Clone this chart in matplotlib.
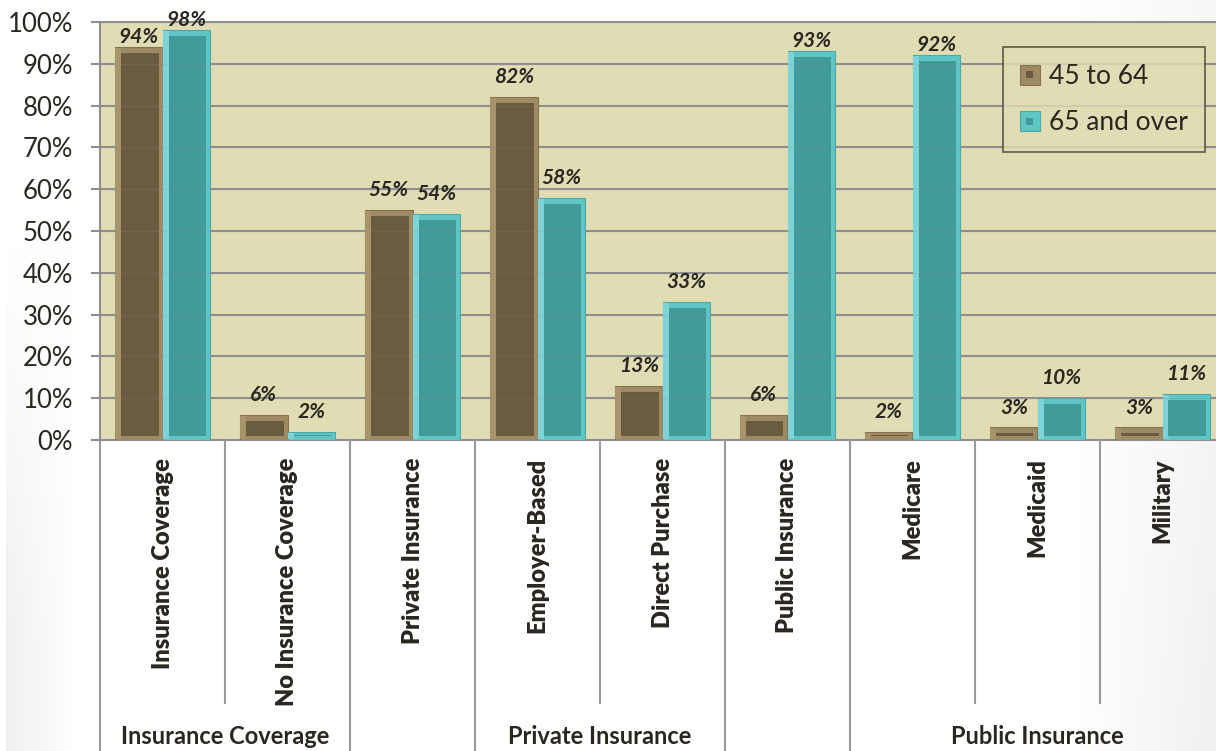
import numpy as np
import matplotlib
matplotlib.use("Agg")
import matplotlib.pyplot as plt
from matplotlib.patches import Rectangle, Patch
from matplotlib.legend_handler import HandlerBase
from matplotlib.transforms import blended_transform_factory

# ---- data -------------------------------------------------------------
categories = ["Insurance Coverage", "No Insurance Coverage", "Private Insurance",
              "Employer-Based", "Direct Purchase", "Public Insurance",
              "Medicare", "Medicaid", "Military"]
age_45_64 = [94, 6, 55, 82, 13, 6, 2, 3, 3]
age_65_over = [98, 2, 54, 58, 33, 93, 92, 10, 11]
series_names = ["45 to 64", "65 and over"]
# group label, first category index, last category index (blank = no label)
groups = [("Insurance Coverage", 0, 1), ("", 2, 2), ("Private Insurance", 3, 4),
          ("", 5, 5), ("Public Insurance", 6, 8)]
y_ticks = [0, 10, 20, 30, 40, 50, 60, 70, 80, 90, 100]
y_tick_labels = [f"{t}%" for t in y_ticks]

# ---- style ------------------------------------------------------------
W, H = 1216, 751
TXT = "#29271f"
GRID = "#8e8e8e"
PLOT_BG = "#e0ddb5"
styles = [
    dict(frame="#9f8b63", light="#a8946b", inner="#6a5b41", edge="#85744f"),
    dict(frame="#60c5c5", light="#7dd3d7", inner="#419b98", edge="#4aa9a9"),
]
plt.rcParams["font.family"] = ["Lato", "DejaVu Sans"]

fig = plt.figure(figsize=(W / 100, H / 100), dpi=100)
fig.patch.set_facecolor("white")

# soft slide shading along the left and right edges
bg = fig.add_axes([0, 0, 1, 1], zorder=-10)
xx, yy = np.meshgrid(np.arange(W), np.arange(H))
left = np.clip(1 - (xx - 6) / 70.0, 0, 1) * np.clip((yy - 250) / 400.0, 0, 1)
left[:, :6] = 0
right = np.clip((xx - 1080) / 136.0, 0, 1) * (0.5 + 0.5 * np.clip((yy - 150) / 600.0, 0, 1))
shade = 0.06 * left + 0.06 * right
img = np.dstack([1 - shade] * 3)
bg.imshow(img, aspect="auto", extent=[0, 1, 0, 1], origin="upper")
bg.axis("off")

ax = fig.add_axes([100 / W, (H - 440) / H, 1125 / W, 418 / H])
ax.set_facecolor(PLOT_BG)
ax.set_xlim(-0.5, len(categories) - 0.5)
ax.set_ylim(0, 100)

px_x = 1 / 125.0          # category units per pixel
px_y = 100 / 418.0        # percent units per pixel

for t in y_ticks:
    ax.axhline(t, color=GRID, lw=1.5, zorder=0.5, clip_on=False)

idx = np.arange(len(categories))
bw = 0.38
offsets = [-0.19, 0.19]
for vals, off, st in zip([age_45_64, age_65_over], offsets, styles):
    vals = np.asarray(vals, dtype=float)
    x = idx + off
    ax.bar(x, vals, bw, color=st["frame"], edgecolor=st["edge"], lw=0.8, zorder=2)
    ax.bar(x - bw / 2 + 3 * px_x, vals - 2 * px_y, 6 * px_x, bottom=px_y,
           color=st["light"], lw=0, zorder=2.1)
    inner_h = np.maximum(vals - 10 * px_y, 1.2 * px_y)
    inner_l = x - bw / 2 + 6 * px_x
    inner_w = bw - 10 * px_x
    ax.bar(inner_l, inner_h, inner_w, bottom=4 * px_y, align="edge",
           color=st["inner"], lw=0, zorder=2.2)
    for xi, v in zip(x, vals):
        gap = 10 if v < 90 else 3
        ax.annotate(f"{int(v)}%", (xi, v), xytext=(0, gap), textcoords="offset points",
                    ha="center", va="baseline", fontsize=15, fontweight="bold",
                    fontstyle="italic", color=TXT, zorder=5, annotation_clip=False)

# faint grid showing through the bars
for t in y_ticks[1:]:
    ax.axhline(t, color=GRID, lw=1.0, alpha=0.18, zorder=3)

# axes styling
for s in ["top", "right", "bottom"]:
    ax.spines[s].set_visible(False)
ax.spines["left"].set_color(GRID)
ax.spines["left"].set_linewidth(1.5)
ax.set_yticks(y_ticks)
ax.set_yticklabels(y_tick_labels, fontsize=18.5, color=TXT)
ax.tick_params(axis="y", length=6.5, width=1.5, color=GRID, pad=13)
ax.set_xticks(idx)
ax.set_xticklabels(categories, rotation=90, fontsize=17, fontweight="heavy", color=TXT)
ax.tick_params(axis="x", length=0, pad=13)

# category separators below the axis
tr = blended_transform_factory(ax.transData, ax.transAxes)
full_bottom = -(H - 440) / 418.0 - 0.01
part_bottom = -(703 - 440) / 418.0
group_edges = {g[1] - 0.5 for g in groups} | {g[2] + 0.5 for g in groups}
for b in np.arange(-0.5, len(categories), 1.0):
    yb = full_bottom if b in group_edges else part_bottom
    ax.plot([b, b], [0, yb], color="#9a9a9a", lw=1.5, transform=tr,
            clip_on=False, zorder=1)

for name, i0, i1 in groups:
    if name:
        ax.text((i0 + i1) / 2, -(737 - 440) / 418.0, name, transform=tr,
                ha="center", va="center", fontsize=17, fontweight="bold", color=TXT)


class BevelSquare(HandlerBase):
    def __init__(self, st):
        super().__init__()
        self.st = st

    def create_artists(self, legend, orig_handle, xdescent, ydescent, width,
                       height, fontsize, trans):
        s = min(width, height)
        x0 = -xdescent + (width - s) / 2
        y0 = -ydescent + (height - s) / 2
        outer = Rectangle((x0, y0), s, s, facecolor=self.st["frame"],
                          edgecolor=self.st["edge"], lw=0.8, transform=trans)
        inner = Rectangle((x0 + 0.32 * s, y0 + 0.32 * s), 0.36 * s, 0.36 * s,
                          facecolor=self.st["inner"], lw=0, transform=trans)
        return [outer, inner]


handles = [Patch(label=n) for n in series_names]
leg = ax.legend(handles=handles, loc="upper right",
                bbox_to_anchor=((1205 - 100) / 1125.0, (440 - 47) / 418.0),
                borderaxespad=0, fontsize=19, frameon=True, fancybox=False,
                handlelength=0.75, handleheight=0.75, handletextpad=0.35,
                labelspacing=0.8, borderpad=0.65,
                handler_map={handles[0]: BevelSquare(styles[0]),
                             handles[1]: BevelSquare(styles[1])})
leg.get_frame().set_facecolor(PLOT_BG)
leg.get_frame().set_edgecolor("#3a3a30")
leg.get_frame().set_linewidth(1.2)
for t in leg.get_texts():
    t.set_color(TXT)
leg.set_zorder(6)

fig.savefig("out.png", dpi=100)
